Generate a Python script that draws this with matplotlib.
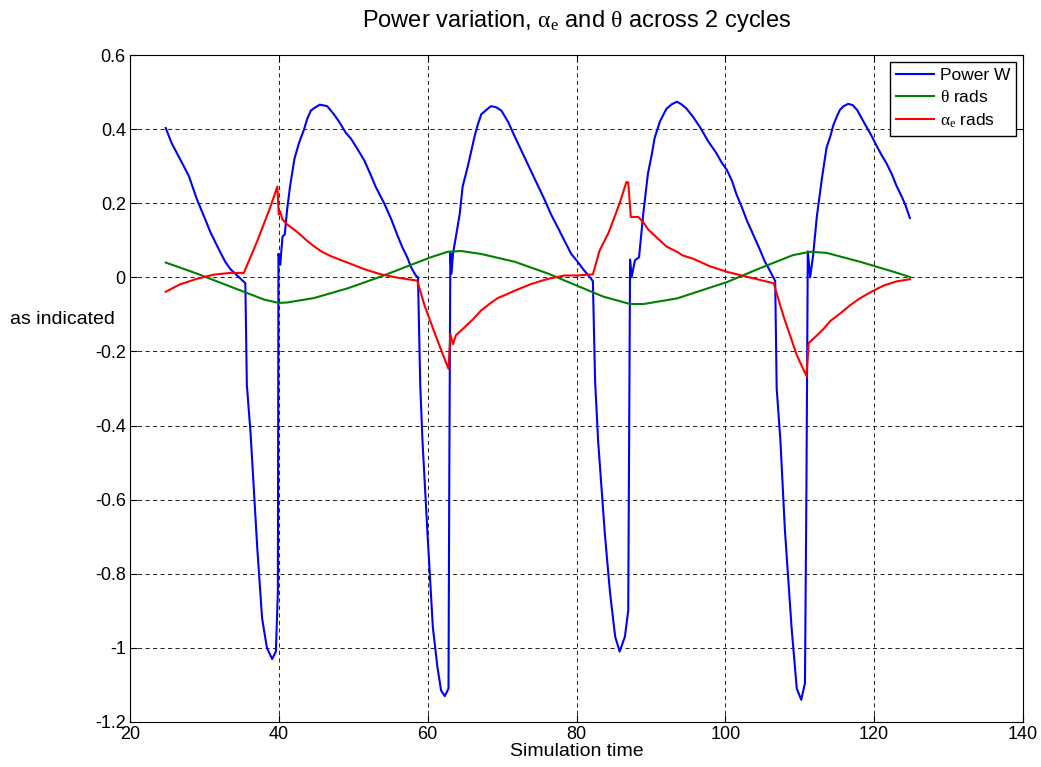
import matplotlib
matplotlib.use("Agg")
import matplotlib.pyplot as plt

plt.rcParams['font.family'] = ['Liberation Sans', 'DejaVu Sans']
plt.rcParams['mathtext.fontset'] = 'custom'
plt.rcParams['mathtext.rm'] = 'Liberation Sans'
plt.rcParams['mathtext.it'] = 'Liberation Serif'

# Power W (blue)
t_power = [24.8, 25.6, 26.7, 27.9, 29.0, 30.1, 30.8, 32.1, 32.8, 33.5, 34.4, 35.5, 35.7, 36.2,
           37.1, 37.75, 38.4, 39.1, 39.6, 39.87, 39.95, 40.2, 40.3, 40.5, 40.8, 41.1, 41.5,
           42.1, 42.7, 43.4, 43.8, 44.3, 44.7, 45.5, 46.5, 47.4, 48.1, 49.0, 49.7, 50.6,
           51.5, 52.4, 53.0, 54.2, 55.1, 56.0, 56.6, 57.3, 57.75, 58.4, 58.7, 59.0, 59.3,
           60.0, 60.7, 61.3, 61.8, 62.3, 62.8, 62.9, 63.05, 63.2, 63.4, 63.8, 64.3, 64.7,
           65.4, 66.3, 66.7, 67.2, 67.9, 68.5, 69.2, 69.9, 70.8, 71.7, 72.8, 73.9, 74.8,
           75.7, 76.6, 77.5, 78.4, 79.3, 80.0, 80.9, 82.2, 82.5, 82.9, 83.8, 84.5, 85.2,
           85.8, 86.5, 86.95, 87.2, 87.4, 87.85, 88.4, 89.0, 89.6, 90.1, 90.5, 91.2, 91.7,
           92.1, 92.8, 93.5, 94.1, 94.8, 95.7, 96.6, 97.7, 98.8, 99.5, 100.2, 100.9, 101.5,
           102.2, 102.9, 103.8, 104.7, 105.3, 105.8, 106.7, 106.9, 107.4, 108.0, 108.9,
           109.6, 110.2, 110.7, 110.9, 111.08, 111.4, 111.8, 112.3, 113.0, 113.6, 114.1,
           114.5, 115.0, 115.4, 115.9, 116.5, 117.1, 117.7, 118.3, 119.0, 119.7, 120.4,
           121.0, 121.7, 122.4, 123.0, 123.7, 124.2, 124.8]
power = [0.403, 0.362, 0.32, 0.274, 0.21, 0.157, 0.122, 0.069, 0.042, 0.022, 0.005, -0.016,
         -0.29, -0.42, -0.73, -0.92, -1.0, -1.03, -1.01, -0.85, 0.063, 0.034, 0.063, 0.11,
         0.116, 0.18, 0.245, 0.32, 0.362, 0.40, 0.427, 0.45, 0.456, 0.466, 0.462, 0.44,
         0.42, 0.39, 0.374, 0.345, 0.315, 0.274, 0.245, 0.198, 0.157, 0.11, 0.081, 0.052,
         0.028, 0.005, 0.0, -0.29, -0.44, -0.70, -0.945, -1.05, -1.115, -1.13, -1.11, -0.56,
         0.066, 0.01, 0.063, 0.11, 0.17, 0.245, 0.30, 0.38, 0.41, 0.44, 0.452, 0.462, 0.459,
         0.45, 0.42, 0.38, 0.333, 0.286, 0.248, 0.21, 0.169, 0.134, 0.098, 0.063, 0.046,
         0.022, -0.01, -0.28, -0.44, -0.69, -0.85, -0.97, -1.01, -0.97, -0.9, 0.048, 0.0,
         0.046, 0.054, 0.177, 0.28, 0.33, 0.376, 0.42, 0.44, 0.455, 0.467, 0.474, 0.467,
         0.455, 0.432, 0.405, 0.367, 0.335, 0.31, 0.29, 0.26, 0.224, 0.19, 0.153, 0.113,
         0.072, 0.043, 0.025, -0.01, -0.30, -0.44, -0.68, -0.945, -1.11, -1.14, -1.095,
         -0.56, 0.07, 0.0, 0.06, 0.165, 0.27, 0.35, 0.38, 0.41, 0.435, 0.452, 0.462, 0.468,
         0.465, 0.452, 0.43, 0.405, 0.38, 0.352, 0.33, 0.306, 0.277, 0.247, 0.218, 0.195,
         0.16]

# theta rads (green)
t_theta = [24.8, 29.0, 33.5, 35.7, 38.0, 40.0, 41.1, 44.7, 49.2, 53.7, 58.2, 60.4, 62.7,
           64.5, 67.2, 71.7, 76.2, 80.0, 83.6, 87.2, 89.0, 93.5, 97.9, 100.2, 104.7, 109.1,
           111.4, 113.6, 118.1, 122.6, 124.8]
theta = [0.04, 0.01, -0.025, -0.042, -0.06, -0.069, -0.068, -0.056, -0.03, 0.002, 0.037,
         0.054, 0.069, 0.071, 0.063, 0.042, 0.01, -0.022, -0.052, -0.072, -0.072, -0.057,
         -0.028, -0.013, 0.025, 0.06, 0.069, 0.066, 0.042, 0.015, 0.001]

# alpha_e rads (red)
t_alpha = [24.8, 26.7, 29.0, 31.2, 33.5, 35.3, 37.1, 38.9, 39.8, 40.0, 40.2, 40.45, 41.1,
           42.5, 43.6, 44.7, 45.8, 47.0, 49.2, 51.5, 53.7, 56.0, 58.6, 59.6, 60.9, 62.0,
           62.8, 63.05, 63.4, 63.8, 64.9, 66.1, 67.2, 68.3, 69.4, 70.6, 71.7, 73.9, 76.2,
           78.4, 80.0, 82.2, 83.1, 84.3, 85.8, 86.7, 86.95, 87.3, 88.3, 89.0, 89.6, 90.8,
           92.1, 93.5, 94.3, 95.7, 97.9, 100.2, 102.4, 106.5, 107.8, 109.6, 110.9, 111.2,
           112.3, 113.2, 114.1, 115.4, 116.8, 117.9, 119.0, 120.1, 121.3, 123.0, 124.8]
alpha = [-0.039, -0.019, -0.004, 0.007, 0.012, 0.012, 0.098, 0.192, 0.245, 0.169, 0.178,
         0.157, 0.143, 0.122, 0.102, 0.084, 0.069, 0.057, 0.04, 0.022, 0.008, -0.001,
         -0.009, -0.077, -0.148, -0.206, -0.247, -0.153, -0.18, -0.156, -0.136, -0.113,
         -0.089, -0.072, -0.056, -0.046, -0.036, -0.018, -0.004, 0.005, 0.005, 0.008, 0.072,
         0.12, 0.2, 0.257, 0.256, 0.163, 0.163, 0.148, 0.13, 0.107, 0.083, 0.069, 0.059,
         0.05, 0.03, 0.015, 0.004, -0.016, -0.104, -0.21, -0.266, -0.177, -0.157, -0.139,
         -0.118, -0.098, -0.075, -0.059, -0.046, -0.034, -0.022, -0.011, -0.005]

fig = plt.figure(figsize=(10.41, 7.67), dpi=100)
ax = fig.add_axes([130/1041, 45/767, 893/1041, 667/767])

ax.plot(t_power, power, color='#0000ff', lw=1.5, label='Power W')
ax.plot(t_theta, theta, color='#008000', lw=1.5, label=r'$\theta$ rads')
ax.plot(t_alpha, alpha, color='#ff0000', lw=1.5, label=r'$\alpha_e$ rads')

ax.set_xlim(20, 140)
ax.set_ylim(-1.2, 0.6)
ax.set_xticks(range(20, 141, 20))
ax.set_yticks([0.6, 0.4, 0.2, 0, -0.2, -0.4, -0.6, -0.8, -1, -1.2])
ax.set_yticklabels(['0.6', '0.4', '0.2', '0', '-0.2', '-0.4', '-0.6', '-0.8', '-1', '-1.2'])
ax.tick_params(direction='in', top=True, right=True, labelsize=13, length=5, width=0.8, pad=3)
ax.grid(True, color='black', linestyle=(0, (5, 4)), linewidth=0.6)
for s in ax.spines.values():
    s.set_linewidth(0.8)

ax.set_title(r'Power variation, $\alpha_e$ and $\theta$ across 2 cycles', fontsize=17, pad=20)
ax.set_xlabel('Simulation time', fontsize=14, labelpad=0)
ax.set_ylabel('as indicated', fontsize=14, rotation=0, ha='right', va='center')
ax.yaxis.set_label_coords(-0.017, 0.603)

leg = ax.legend(loc='upper right', fontsize=12.5, fancybox=False, edgecolor='black',
                framealpha=1, handlelength=2.2, handletextpad=0.3, borderaxespad=0.4,
                labelspacing=0.35, borderpad=0.35)
leg.get_frame().set_linewidth(1.0)

fig.savefig('out.png', dpi=100)
